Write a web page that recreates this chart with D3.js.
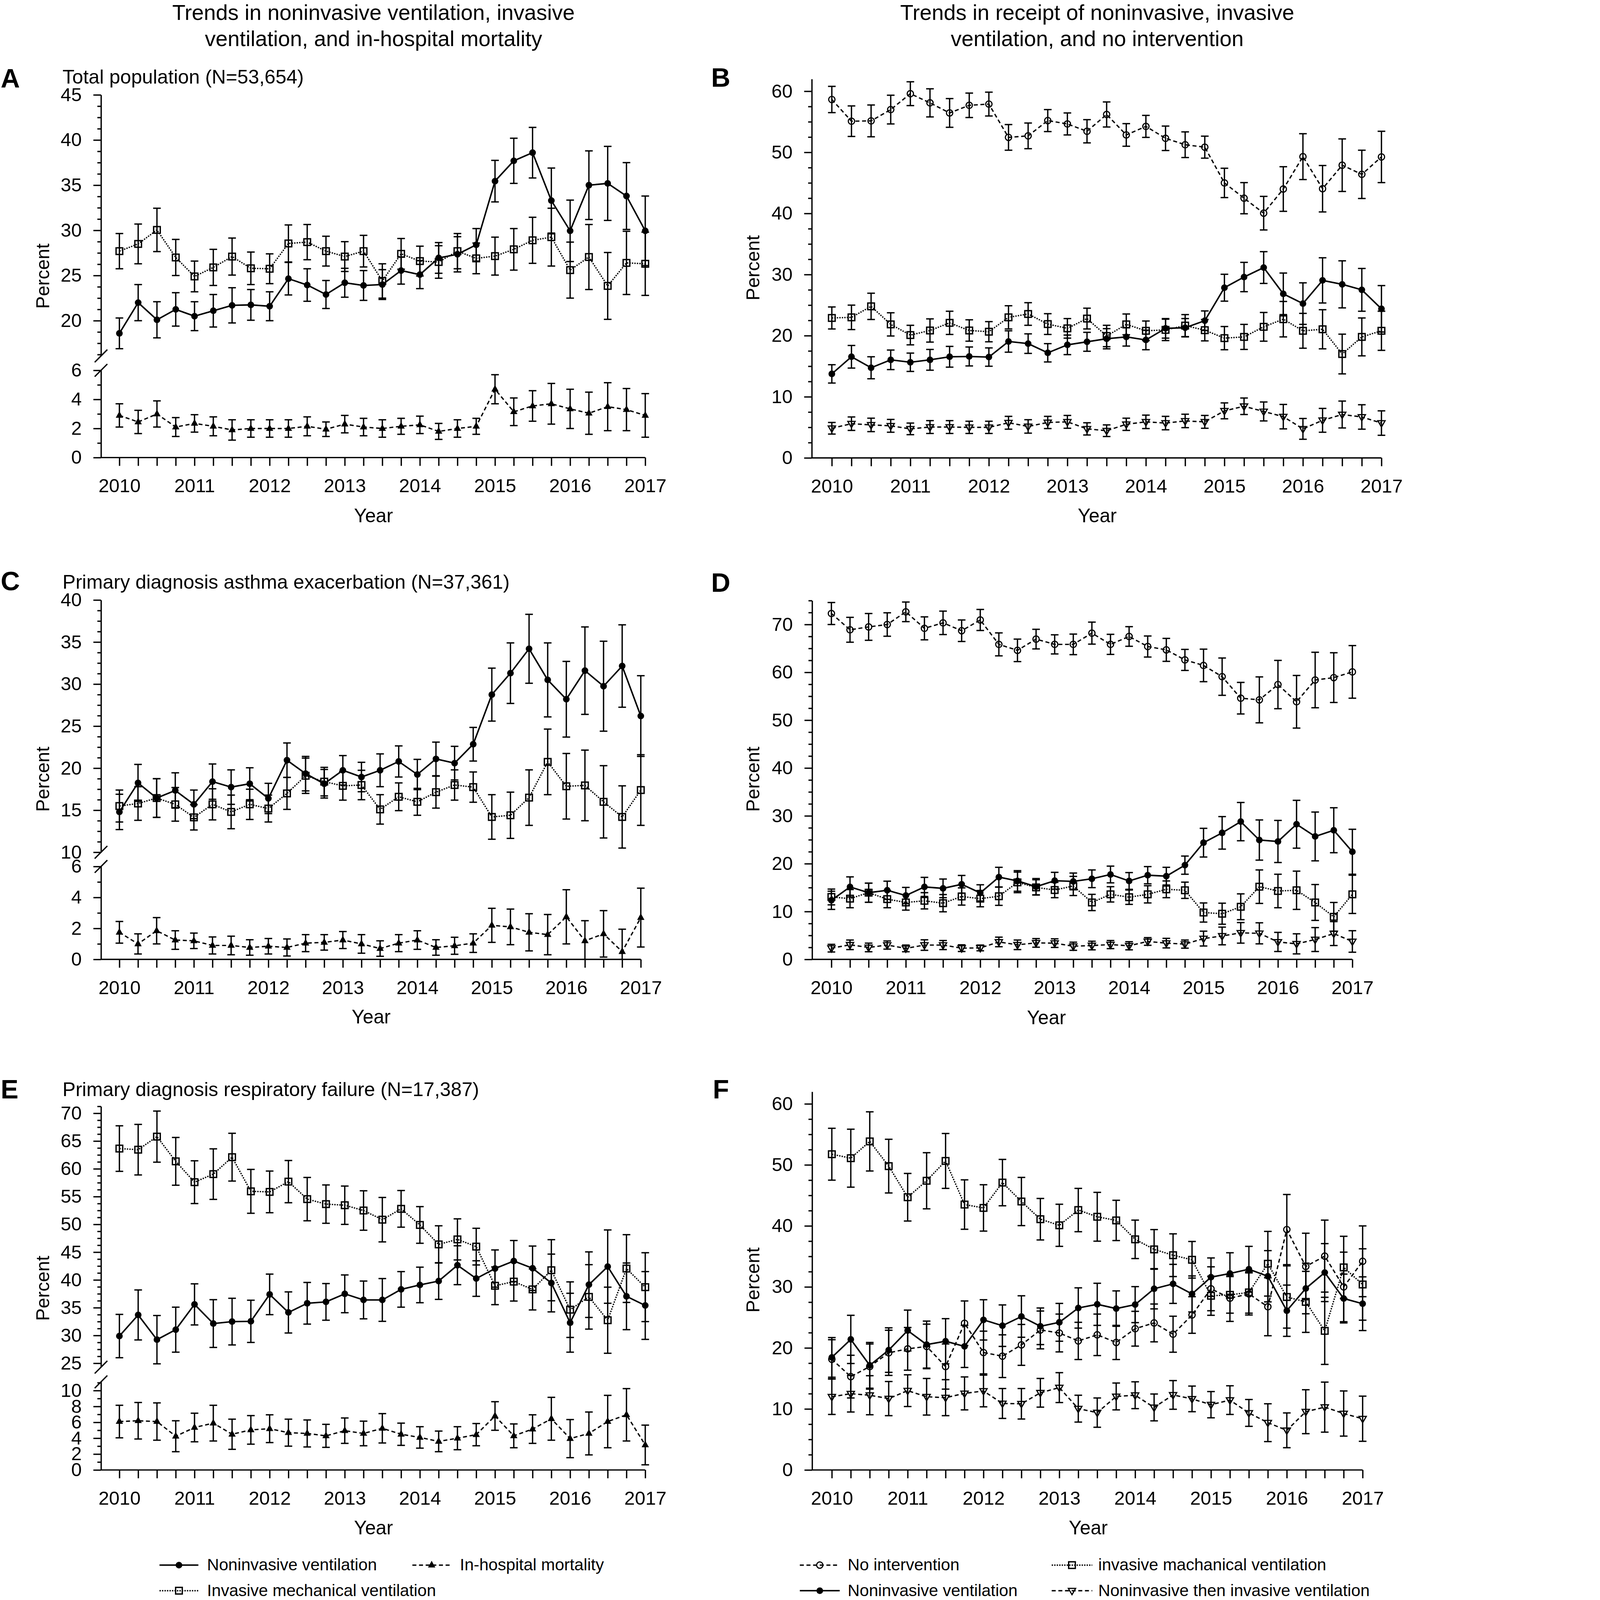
<!DOCTYPE html>
<html>
<head>
<meta charset="utf-8">
<script src="https://cdn.jsdelivr.net/npm/d3@7"></script>
<style>
html, body { margin: 0; padding: 0; background: #fff; overflow: hidden; }
svg { display: block; }
text { font-family: "Liberation Sans", Arial, Helvetica, sans-serif; fill: #000; }
</style>
</head>
<body>
<script>
// quarters 2010 Q1 .. 2017 Q1
var quarters = [2010, 2010.25, 2010.5, 2010.75, 2011, 2011.25, 2011.5, 2011.75, 2012, 2012.25, 2012.5, 2012.75,
  2013, 2013.25, 2013.5, 2013.75, 2014, 2014.25, 2014.5, 2014.75, 2015, 2015.25, 2015.5, 2015.75,
  2016, 2016.25, 2016.5, 2016.75, 2017];

// A - total population
var aNiv = [18.6, 22.0, 20.1, 21.25, 20.5, 21.1, 21.7, 21.75, 21.6, 24.65, 23.95, 22.9, 24.2, 23.9, 24.0, 25.55, 25.1, 26.95, 27.35, 28.4, 35.45, 37.7, 38.6, 33.3, 29.95, 35.0, 35.2, 33.8, 29.95];
var aNivErr = [1.7, 2.0, 2.0, 1.85, 1.6, 1.8, 1.95, 1.7, 1.6, 1.8, 1.8, 1.55, 1.6, 1.65, 1.65, 1.5, 1.55, 1.7, 1.95, 1.8, 2.3, 2.5, 2.8, 3.6, 3.4, 3.8, 4.1, 3.7, 3.85];
var aImv = [27.7, 28.5, 30.05, 27.0, 24.9, 25.9, 27.1, 25.8, 25.75, 28.55, 28.7, 27.7, 27.1, 27.7, 24.4, 27.4, 26.6, 26.5, 27.7, 26.9, 27.15, 27.9, 28.9, 29.25, 25.6, 27.05, 23.85, 26.4, 26.3];
var aImvErr = [1.95, 2.2, 2.4, 2.0, 1.7, 2.0, 2.05, 1.8, 1.65, 2.05, 1.95, 1.65, 1.65, 1.75, 1.9, 1.7, 1.65, 1.8, 1.95, 1.7, 2.1, 2.3, 2.55, 3.2, 3.1, 3.6, 3.7, 3.5, 3.5];
var aMort = [2.9, 2.45, 3.0, 2.1, 2.35, 2.15, 1.9, 2.0, 2.0, 2.0, 2.15, 1.95, 2.3, 2.1, 2.0, 2.15, 2.25, 1.8, 2.0, 2.15, 4.7, 3.15, 3.55, 3.7, 3.35, 3.05, 3.5, 3.3, 2.9];
var aMortErr = [0.8, 0.8, 0.9, 0.65, 0.6, 0.65, 0.7, 0.6, 0.6, 0.6, 0.65, 0.5, 0.6, 0.6, 0.6, 0.55, 0.6, 0.55, 0.6, 0.55, 1.0, 0.95, 1.05, 1.4, 1.35, 1.45, 1.65, 1.45, 1.5];

// B - total population, receipt
var bNone = [58.65, 55.1, 55.15, 57.0, 59.6, 58.1, 56.45, 57.7, 57.9, 52.45, 52.7, 55.2, 54.65, 53.45, 56.2, 52.85, 54.25, 52.3, 51.25, 50.85, 45.0, 42.5, 40.05, 44.0, 49.3, 44.05, 47.9, 46.4, 49.25];
var bNoneErr = [2.15, 2.5, 2.6, 2.35, 1.95, 2.3, 2.35, 2.0, 1.95, 2.1, 2.1, 1.8, 1.8, 1.9, 2.05, 1.85, 1.8, 2.0, 2.1, 1.8, 2.4, 2.55, 2.75, 3.65, 3.75, 3.8, 4.3, 3.95, 4.2];
var bNiv = [13.75, 16.55, 14.75, 16.05, 15.65, 16.05, 16.55, 16.6, 16.5, 19.05, 18.7, 17.2, 18.5, 19.0, 19.5, 19.8, 19.3, 21.2, 21.3, 22.45, 27.85, 29.6, 31.15, 26.85, 25.25, 29.05, 28.4, 27.5, 24.4];
var bNivErr = [1.5, 1.85, 1.8, 1.6, 1.5, 1.7, 1.7, 1.55, 1.5, 1.75, 1.6, 1.5, 1.6, 1.55, 1.65, 1.5, 1.6, 1.6, 1.5, 1.6, 2.2, 2.4, 2.6, 3.4, 3.4, 3.7, 3.85, 3.5, 3.8];
var bImv = [22.9, 23.0, 24.8, 21.85, 20.1, 20.85, 22.1, 20.85, 20.65, 23.0, 23.55, 21.9, 21.2, 22.8, 19.95, 21.85, 20.8, 20.95, 21.65, 20.9, 19.6, 19.8, 21.45, 22.7, 20.8, 21.05, 17.0, 19.8, 20.8];
var bImvErr = [1.8, 2.0, 2.15, 1.9, 1.6, 1.9, 1.9, 1.75, 1.65, 1.9, 1.85, 1.7, 1.6, 1.7, 1.75, 1.7, 1.6, 1.75, 1.8, 1.75, 1.9, 2.05, 2.35, 2.9, 2.85, 3.2, 3.25, 3.1, 3.2];
var bNivImv = [4.85, 5.6, 5.4, 5.25, 4.75, 5.05, 5.05, 5.0, 5.0, 5.75, 5.15, 5.8, 5.9, 4.75, 4.45, 5.5, 5.9, 5.7, 6.05, 5.9, 7.7, 8.45, 7.6, 6.75, 4.75, 6.15, 7.1, 6.7, 5.7];
var bNivImvErr = [0.95, 1.1, 1.1, 1.05, 0.95, 1.05, 1.05, 1.0, 1.0, 1.05, 1.1, 1.0, 1.05, 1.0, 0.95, 1.0, 1.1, 1.1, 1.1, 1.05, 1.3, 1.35, 1.55, 2.0, 1.7, 1.95, 2.2, 2.0, 2.0];

// C - asthma exacerbation
var cNiv = [14.8, 18.25, 16.45, 17.35, 15.7, 18.4, 17.75, 18.15, 16.4, 20.95, 19.35, 18.15, 19.75, 18.95, 19.75, 20.8, 19.25, 21.1, 20.6, 22.85, 28.75, 31.3, 34.2, 30.5, 28.2, 31.6, 29.75, 32.15, 26.2];
var cNivErr = [2.1, 2.2, 2.3, 2.1, 1.7, 2.1, 2.05, 1.9, 1.8, 2.05, 2.05, 1.7, 1.75, 1.75, 1.95, 1.85, 1.8, 2.0, 2.0, 2.0, 3.15, 3.6, 4.1, 4.4, 4.5, 5.2, 5.35, 4.9, 4.8];
var cImv = [15.5, 15.8, 16.45, 15.7, 14.15, 15.7, 14.8, 15.7, 15.2, 17.0, 19.1, 18.4, 17.9, 18.0, 15.1, 16.6, 16.0, 17.15, 18.0, 17.75, 14.2, 14.4, 16.5, 20.75, 17.85, 17.95, 16.0, 14.2, 17.4];
var cImvErr = [1.9, 2.0, 2.3, 2.0, 1.5, 1.85, 2.0, 1.8, 1.6, 1.9, 2.1, 1.7, 1.7, 1.75, 1.75, 1.65, 1.6, 1.9, 1.8, 1.8, 2.65, 2.75, 3.3, 3.9, 3.9, 4.2, 4.3, 3.7, 4.2];
var cMort = [1.75, 1.0, 1.85, 1.25, 1.2, 0.9, 0.9, 0.77, 0.85, 0.77, 1.05, 1.1, 1.25, 1.0, 0.7, 1.05, 1.25, 0.77, 0.88, 1.05, 2.2, 2.1, 1.75, 1.6, 2.75, 1.2, 1.65, 0.5, 2.7];
var cMortErr = [0.7, 0.65, 0.85, 0.6, 0.5, 0.55, 0.6, 0.5, 0.5, 0.55, 0.55, 0.5, 0.55, 0.6, 0.5, 0.55, 0.6, 0.5, 0.55, 0.6, 1.1, 1.15, 1.2, 1.3, 1.75, 1.3, 1.5, 1.45, 1.9];

// D - asthma exacerbation, receipt
var dNone = [72.3, 68.9, 69.5, 70.0, 72.65, 69.2, 70.35, 68.7, 70.95, 65.85, 64.6, 66.95, 65.85, 65.85, 68.2, 65.85, 67.5, 65.4, 64.7, 62.6, 61.45, 59.1, 54.6, 54.25, 57.45, 53.85, 58.4, 58.9, 60.1];
var dNoneErr = [2.3, 2.6, 2.8, 2.45, 2.05, 2.4, 2.45, 2.25, 2.2, 2.4, 2.35, 2.05, 2.0, 2.15, 2.3, 2.1, 2.05, 2.2, 2.4, 2.2, 3.4, 3.9, 3.3, 4.8, 5.05, 5.5, 5.8, 5.2, 5.5];
var dNiv = [12.35, 15.15, 13.95, 14.45, 13.35, 15.15, 14.85, 15.7, 13.9, 17.2, 16.4, 15.2, 16.45, 16.3, 16.85, 17.75, 16.4, 17.6, 17.4, 19.7, 24.4, 26.45, 28.8, 24.95, 24.65, 28.25, 25.7, 27.0, 22.5];
var dNivErr = [1.9, 2.1, 2.0, 1.9, 1.7, 2.0, 1.95, 1.85, 1.7, 2.05, 2.15, 1.7, 1.75, 1.75, 1.85, 1.75, 1.75, 1.8, 1.85, 1.9, 3.0, 3.4, 4.0, 4.2, 4.4, 5.0, 5.1, 4.7, 4.7];
var dImv = [13.05, 12.7, 13.95, 12.6, 11.9, 12.25, 11.75, 13.15, 12.7, 13.2, 16.1, 15.05, 14.5, 15.35, 11.9, 13.6, 13.0, 13.6, 14.65, 14.45, 9.8, 9.55, 11.0, 15.2, 14.3, 14.45, 11.9, 8.9, 13.6];
var dImvErr = [1.65, 1.9, 2.0, 1.8, 1.6, 1.7, 1.8, 1.8, 1.7, 1.9, 2.15, 1.6, 1.6, 2.0, 1.7, 1.6, 1.5, 1.8, 1.75, 1.7, 2.0, 2.2, 2.7, 3.5, 3.5, 4.0, 3.75, 3.0, 4.0];
var dNivImv = [2.35, 3.05, 2.5, 3.0, 2.3, 3.0, 3.0, 2.35, 2.4, 3.65, 3.05, 3.45, 3.4, 2.75, 2.9, 3.1, 2.85, 3.75, 3.4, 3.2, 4.35, 4.9, 5.55, 5.45, 3.65, 3.25, 4.15, 5.4, 3.75];
var dNivImvErr = [0.8, 1.0, 0.9, 0.85, 0.7, 1.1, 0.95, 0.7, 0.6, 1.0, 1.0, 0.9, 0.9, 0.85, 0.9, 0.85, 0.85, 0.8, 1.0, 0.85, 1.55, 1.85, 2.15, 2.2, 2.0, 2.1, 2.5, 2.5, 2.25];

// E - respiratory failure
var eNiv = [29.9, 33.7, 29.25, 31.05, 35.6, 32.15, 32.5, 32.55, 37.4, 34.15, 35.8, 36.05, 37.5, 36.4, 36.4, 38.3, 39.1, 39.8, 42.65, 40.25, 42.05, 43.4, 42.1, 39.45, 32.3, 39.15, 42.4, 37.05, 35.4];
var eNivErr = [3.9, 4.5, 4.35, 4.05, 3.7, 4.3, 4.2, 3.8, 3.65, 3.7, 3.75, 3.3, 3.4, 3.4, 3.85, 3.2, 3.2, 3.3, 3.5, 3.2, 3.35, 3.7, 4.0, 5.2, 5.3, 5.9, 6.6, 6.0, 6.1];
var eImv = [63.65, 63.45, 65.8, 61.35, 57.6, 59.05, 62.1, 55.95, 55.85, 57.7, 54.55, 53.65, 53.45, 52.5, 50.85, 52.8, 49.9, 46.4, 47.3, 46.0, 38.95, 39.7, 38.3, 41.75, 34.65, 36.95, 32.75, 42.05, 38.7];
var eImvErr = [4.1, 4.55, 4.6, 4.3, 3.85, 4.55, 4.3, 3.95, 3.75, 3.8, 3.9, 3.45, 3.45, 3.55, 4.0, 3.3, 3.3, 3.35, 3.7, 3.3, 3.4, 3.5, 3.7, 5.5, 5.0, 5.8, 5.95, 6.1, 6.2];
var eMort = [6.1, 6.2, 6.1, 4.25, 5.35, 5.9, 4.5, 5.05, 5.2, 4.7, 4.6, 4.3, 4.95, 4.6, 5.25, 4.5, 4.1, 3.6, 4.0, 4.45, 6.8, 4.3, 5.15, 6.45, 3.95, 4.6, 6.1, 6.95, 3.15];
var eMortErr = [2.05, 2.3, 2.35, 1.95, 1.8, 2.25, 1.9, 1.8, 1.75, 1.7, 1.7, 1.45, 1.6, 1.55, 1.85, 1.4, 1.35, 1.3, 1.45, 1.4, 1.8, 1.5, 1.8, 2.7, 2.4, 2.7, 3.3, 3.3, 2.5];

// F - respiratory failure, receipt
var fNone = [18.15, 15.3, 16.95, 19.2, 19.85, 20.25, 16.95, 24.05, 19.25, 18.65, 20.5, 22.95, 22.45, 21.15, 22.15, 20.9, 23.15, 24.1, 22.25, 25.4, 29.7, 28.15, 28.85, 26.75, 39.4, 33.35, 35.05, 30.0, 34.2];
var fNoneErr = [3.2, 3.5, 3.7, 3.7, 3.5, 3.65, 3.7, 3.65, 3.5, 3.5, 3.35, 3.1, 3.1, 3.05, 3.4, 2.8, 2.85, 3.1, 2.95, 3.0, 3.6, 3.8, 3.45, 4.75, 5.75, 5.45, 5.9, 5.7, 5.8];
var fNiv = [18.45, 21.4, 17.15, 19.65, 22.85, 20.55, 21.1, 20.25, 24.6, 23.65, 25.15, 23.55, 24.2, 26.55, 27.15, 26.45, 27.1, 29.7, 30.5, 28.85, 31.6, 32.2, 32.9, 31.75, 26.1, 29.75, 32.35, 28.1, 27.25];
var fNivErr = [3.25, 3.95, 3.75, 3.65, 3.35, 3.85, 3.7, 3.45, 3.3, 3.4, 3.4, 3.0, 3.1, 3.3, 3.45, 2.9, 2.95, 3.3, 3.2, 2.95, 3.15, 3.4, 3.75, 4.2, 4.2, 4.15, 4.75, 4.0, 4.4];
var fImv = [51.75, 51.1, 53.85, 49.8, 44.7, 47.4, 50.65, 43.5, 42.95, 47.1, 44.0, 41.1, 40.1, 42.6, 41.5, 40.9, 37.8, 36.15, 35.2, 34.45, 28.55, 28.7, 29.1, 33.8, 28.35, 27.55, 22.8, 33.2, 30.4];
var fImvErr = [4.25, 4.75, 4.85, 4.4, 3.9, 4.6, 4.5, 4.05, 3.8, 3.8, 3.95, 3.4, 3.45, 3.55, 4.0, 3.3, 3.15, 3.25, 3.5, 3.0, 3.2, 3.0, 3.4, 5.3, 5.1, 5.0, 5.5, 5.1, 5.85];
var fNivImv = [12.0, 12.5, 12.25, 11.7, 13.0, 12.0, 11.85, 12.55, 12.95, 10.9, 10.85, 12.65, 13.5, 10.05, 9.4, 12.05, 12.25, 10.25, 12.3, 11.65, 10.7, 11.45, 9.35, 7.75, 6.5, 9.55, 10.3, 9.25, 8.4];
var fNivImvErr = [2.9, 3.0, 3.2, 2.8, 2.6, 3.0, 2.95, 2.7, 2.6, 2.45, 2.5, 2.35, 2.45, 2.2, 2.4, 2.2, 2.2, 2.2, 2.35, 2.1, 2.15, 2.35, 2.2, 3.1, 2.85, 3.6, 4.1, 3.7, 3.7];

var legendLeft = ["Noninvasive ventilation", "In-hospital mortality", "Invasive mechanical ventilation"];
var legendRight = ["No intervention", "invasive machanical ventilation", "Noninvasive ventilation", "Noninvasive then invasive ventilation"];

var width = 4222, height = 4815;

// drawn in a 4222x4815 coordinate space, fitted to the window
var svg = d3.select("body").append("svg")
    .attr("viewBox", "0 0 " + width + " " + height)
    .attr("preserveAspectRatio", "xMinYMin meet")
    .style("width", "100vw")
    .style("height", "100vh")
    .style("background", "#fff");

// line / marker look of every series
var styles = {
  niv:    { dash: null,   w: 4.5, marker: "dot" },
  imv:    { dash: "4,3.5", w: 4,  marker: "square" },
  mort:   { dash: "12,8", w: 4,   marker: "tri" },
  none:   { dash: "12,8", w: 4,   marker: "ring" },
  nivImv: { dash: "12,8", w: 4,   marker: "tridown" }
};

// linear scale from two known tick positions, limited to [lo, hi]
function lin(v0, p0, v1, p1, lo, hi) {
  var k = (p1 - p0) / (v1 - v0);
  return d3.scaleLinear().domain([lo, hi]).range([p0 + (lo - v0) * k, p0 + (hi - v0) * k]);
}

function drawMarker(g, type, cx, cy) {
  if (type == "dot") {
    g.append("circle").attr("cx", cx).attr("cy", cy).attr("r", 10).attr("fill", "#000");
  } else if (type == "ring") {
    g.append("circle").attr("cx", cx).attr("cy", cy).attr("r", 9.5)
      .attr("fill", "none").attr("stroke", "#000").attr("stroke-width", 3.5);
  } else if (type == "square") {
    g.append("rect").attr("x", cx - 10).attr("y", cy - 10).attr("width", 20).attr("height", 20)
      .attr("fill", "none").attr("stroke", "#000").attr("stroke-width", 4);
  } else if (type == "tri") {
    g.append("path").attr("d", "M" + cx + "," + (cy - 13) + "L" + (cx + 11) + "," + (cy + 7) + "L" + (cx - 11) + "," + (cy + 7) + "Z")
      .attr("fill", "#000");
  } else if (type == "tridown") {
    g.append("path").attr("d", "M" + cx + "," + (cy + 12) + "L" + (cx + 11) + "," + (cy - 7) + "L" + (cx - 11) + "," + (cy - 7) + "Z")
      .attr("fill", "none").attr("stroke", "#000").attr("stroke-width", 3.5);
  }
}

function styleAxis(sel, size) {
  sel.attr("font-family", null).attr("font-size", size);
  sel.selectAll("path, line").attr("stroke", "#000").attr("stroke-width", 4);
  sel.selectAll("text").attr("fill", "#000");
}

function drawPanel(p) {
  var g = svg.append("g");
  var x = d3.scaleLinear().domain([2010, 2017]).range([p.x0, p.x1]);

  // y axes (one or two segments)
  p.segs.forEach(function (s) {
    var dom = s.y.domain();
    var ax = g.append("g").attr("transform", "translate(" + p.axisX + ",0)")
      .call(d3.axisLeft(s.y).tickValues(s.majors).tickSize(23).tickSizeOuter(0).tickPadding(35).tickFormat(d3.format("d")));
    styleAxis(ax, 57);
    var minors = d3.range(Math.ceil(dom[0] / s.step - 1e-9) * s.step, dom[1] + 1e-9, s.step)
      .filter(function (v) { return s.majors.every(function (m) { return Math.abs(m - v) > 1e-6; }); });
    var mi = g.append("g").attr("transform", "translate(" + p.axisX + ",0)")
      .call(d3.axisLeft(s.y).tickValues(minors).tickSize(11).tickSizeOuter(0).tickFormat(""));
    mi.select(".domain").remove();
    styleAxis(mi, 57);
  });

  // axis break marks
  if (p.segs.length == 2) {
    var yb = [p.segs[0].y(p.segs[0].y.domain()[0]), p.segs[1].y(p.segs[1].y.domain()[1])];
    yb.forEach(function (yy) {
      g.append("line").attr("x1", p.axisX - 19).attr("y1", yy + 19).attr("x2", p.axisX + 19).attr("y2", yy - 19)
        .attr("stroke", "#000").attr("stroke-width", 4);
    });
  }

  // x axis
  var last = p.segs[p.segs.length - 1].y;
  var baseY = last(last.domain()[0]);
  var xa = g.append("g").attr("transform", "translate(0," + baseY + ")")
    .call(d3.axisBottom(x).tickValues(quarters).tickSize(25).tickSizeOuter(0).tickPadding(39)
      .tickFormat(function (d) { return d % 1 === 0 ? d : ""; }));
  xa.select(".domain").remove();
  styleAxis(xa, 57);
  g.append("line").attr("x1", p.axisX).attr("x2", p.x1).attr("y1", baseY).attr("y2", baseY)
    .attr("stroke", "#000").attr("stroke-width", 4);

  // series
  p.series.forEach(function (s) {
    var y = p.segs[s.seg].y, lo = y.domain()[0];
    var st = styles[s.st];
    var pts = s.v.map(function (v, i) { return { x: x(quarters[i]), v: v, e: s.e[i] }; });

    g.append("path").datum(pts)
      .attr("d", d3.line().x(function (d) { return d.x; }).y(function (d) { return y(d.v); }))
      .attr("fill", "none").attr("stroke", "#000").attr("stroke-width", st.w)
      .attr("stroke-dasharray", st.dash);

    var eb = g.append("g").attr("stroke", "#000").attr("stroke-width", 4);
    eb.selectAll(null).data(pts).enter().append("line")
      .attr("x1", function (d) { return d.x; }).attr("x2", function (d) { return d.x; })
      .attr("y1", function (d) { return y(d.v + d.e); })
      .attr("y2", function (d) { return y(Math.max(lo, d.v - d.e)); });
    eb.selectAll(null).data(pts).enter().append("line")
      .attr("x1", function (d) { return d.x - 11.5; }).attr("x2", function (d) { return d.x + 11.5; })
      .attr("y1", function (d) { return y(d.v + d.e); }).attr("y2", function (d) { return y(d.v + d.e); });
    eb.selectAll(null).data(pts.filter(function (d) { return d.v - d.e > lo; })).enter().append("line")
      .attr("x1", function (d) { return d.x - 11.5; }).attr("x2", function (d) { return d.x + 11.5; })
      .attr("y1", function (d) { return y(d.v - d.e); }).attr("y2", function (d) { return y(d.v - d.e); });

    pts.forEach(function (d) { drawMarker(g, st.marker, d.x, y(d.v)); });
  });

  // texts
  g.append("text").attr("x", p.letter[0]).attr("y", p.letter[1])
    .attr("font-size", 80).attr("font-weight", "bold").text(p.id);
  if (p.sub) {
    g.append("text").attr("x", 188).attr("y", p.sub[1]).attr("font-size", 59).text(p.sub[0]);
  }
  g.append("text").attr("transform", "translate(" + p.percent[0] + "," + p.percent[1] + ") rotate(-90)")
    .attr("text-anchor", "middle").attr("font-size", 57).text("Percent");
  g.append("text").attr("x", p.year[0]).attr("y", p.year[1])
    .attr("text-anchor", "middle").attr("font-size", 58).text("Year");
}

var panels = [
  { id: "A", x0: 359.3, x1: 1941.8, axisX: 304, letter: [2, 263], sub: ["Total population (N=53,654)", 252],
    percent: [148, 831], year: [1124, 1572],
    segs: [ { y: lin(20, 965.1, 45, 285.5, 16.1, 45), majors: [20, 25, 30, 35, 40, 45], step: 1.25 },
            { y: lin(0, 1377, 6, 1114.5, 0, 6), majors: [0, 2, 4, 6], step: 1 } ],
    series: [ { seg: 1, v: aMort, e: aMortErr, st: "mort" },
              { seg: 0, v: aImv, e: aImvErr, st: "imv" },
              { seg: 0, v: aNiv, e: aNivErr, st: "niv" } ] },
  { id: "B", x0: 2503.3, x1: 4157.3, axisX: 2443, letter: [2140, 261],
    percent: [2285, 806], year: [3302, 1572],
    segs: [ { y: lin(0, 1378, 60, 274.6, 0, 62), majors: [0, 10, 20, 30, 40, 50, 60], step: 2.5 } ],
    series: [ { seg: 0, v: bNivImv, e: bNivImvErr, st: "nivImv" },
              { seg: 0, v: bImv, e: bImvErr, st: "imv" },
              { seg: 0, v: bNiv, e: bNivErr, st: "niv" },
              { seg: 0, v: bNone, e: bNoneErr, st: "none" } ] },
  { id: "C", x0: 359.3, x1: 1928.4, axisX: 304, letter: [2, 1776], sub: ["Primary diagnosis asthma exacerbation (N=37,361)", 1771],
    percent: [148, 2345], year: [1117, 3080],
    segs: [ { y: lin(10, 2564.8, 40, 1805.7, 10, 40), majors: [10, 15, 20, 25, 30, 35, 40], step: 1.25 },
            { y: lin(0, 2887.2, 6, 2607.6, 0, 6), majors: [0, 2, 4, 6], step: 1 } ],
    series: [ { seg: 1, v: cMort, e: cMortErr, st: "mort" },
              { seg: 0, v: cImv, e: cImvErr, st: "imv" },
              { seg: 0, v: cNiv, e: cNivErr, st: "niv" } ] },
  { id: "D", x0: 2502, x1: 4069.8, axisX: 2444, letter: [2140, 1781],
    percent: [2285, 2345], year: [3149, 3082],
    segs: [ { y: lin(0, 2887.2, 70, 1879.4, 0, 75), majors: [0, 10, 20, 30, 40, 50, 60, 70], step: 2.5 } ],
    series: [ { seg: 0, v: dNivImv, e: dNivImvErr, st: "nivImv" },
              { seg: 0, v: dImv, e: dImvErr, st: "imv" },
              { seg: 0, v: dNiv, e: dNivErr, st: "niv" },
              { seg: 0, v: dNone, e: dNoneErr, st: "none" } ] },
  { id: "E", x0: 359.3, x1: 1941.8, axisX: 304, letter: [2, 3306], sub: ["Primary diagnosis respiratory failure (N=17,387)", 3298],
    percent: [148, 3877], year: [1124, 4617],
    segs: [ { y: lin(25, 4102.6, 70, 3350.3, 24.3, 71.25), majors: [25, 30, 35, 40, 45, 50, 55, 60, 65, 70], step: 1.25 },
            { y: lin(0, 4423.7, 10, 4184.8, 0, 11.1), majors: [0, 2, 4, 6, 8, 10], step: 1 } ],
    series: [ { seg: 1, v: eMort, e: eMortErr, st: "mort" },
              { seg: 0, v: eImv, e: eImvErr, st: "imv" },
              { seg: 0, v: eNiv, e: eNivErr, st: "niv" } ] },
  { id: "F", x0: 2503.3, x1: 4100.7, axisX: 2444, letter: [2145, 3306],
    percent: [2285, 3852], year: [3275, 4617],
    segs: [ { y: lin(0, 4423.7, 60, 3322, 0, 62), majors: [0, 10, 20, 30, 40, 50, 60], step: 2.5 } ],
    series: [ { seg: 0, v: fNivImv, e: fNivImvErr, st: "nivImv" },
              { seg: 0, v: fImv, e: fImvErr, st: "imv" },
              { seg: 0, v: fNone, e: fNoneErr, st: "none" },
              { seg: 0, v: fNiv, e: fNivErr, st: "niv" } ] }
];

panels.forEach(drawPanel);

// column titles
var titles = [
  { x: 1124, lines: ["Trends in noninvasive ventilation, invasive", "ventilation, and in-hospital mortality"] },
  { x: 3302, lines: ["Trends in receipt of noninvasive, invasive", "ventilation, and no intervention"] }
];
titles.forEach(function (t) {
  t.lines.forEach(function (l, i) {
    svg.append("text").attr("x", t.x).attr("y", 60 + i * 79)
      .attr("text-anchor", "middle").attr("font-size", 65).text(l);
  });
});

// legends
function legendItem(x0, x1, tx, base, st, label) {
  var st2 = styles[st];
  var ly = base - 16;
  svg.append("line").attr("x1", x0).attr("x2", x1).attr("y1", ly).attr("y2", ly)
    .attr("stroke", "#000").attr("stroke-width", st2.w).attr("stroke-dasharray", st2.dash);
  drawMarker(svg, st2.marker, (x0 + x1) / 2, ly);
  svg.append("text").attr("x", tx).attr("y", base).attr("font-size", 50).text(label);
}
legendItem(480, 597, 623, 4726, "niv", legendLeft[0]);
legendItem(1241, 1357, 1384, 4726, "mort", legendLeft[1]);
legendItem(480, 597, 623, 4803, "imv", legendLeft[2]);
legendItem(2407, 2527, 2551, 4726, "none", legendRight[0]);
legendItem(3165, 3287, 3305, 4726, "imv", legendRight[1]);
legendItem(2407, 2527, 2551, 4803, "niv", legendRight[2]);
legendItem(3165, 3287, 3305, 4803, "nivImv", legendRight[3]);
</script>
</body>
</html>
